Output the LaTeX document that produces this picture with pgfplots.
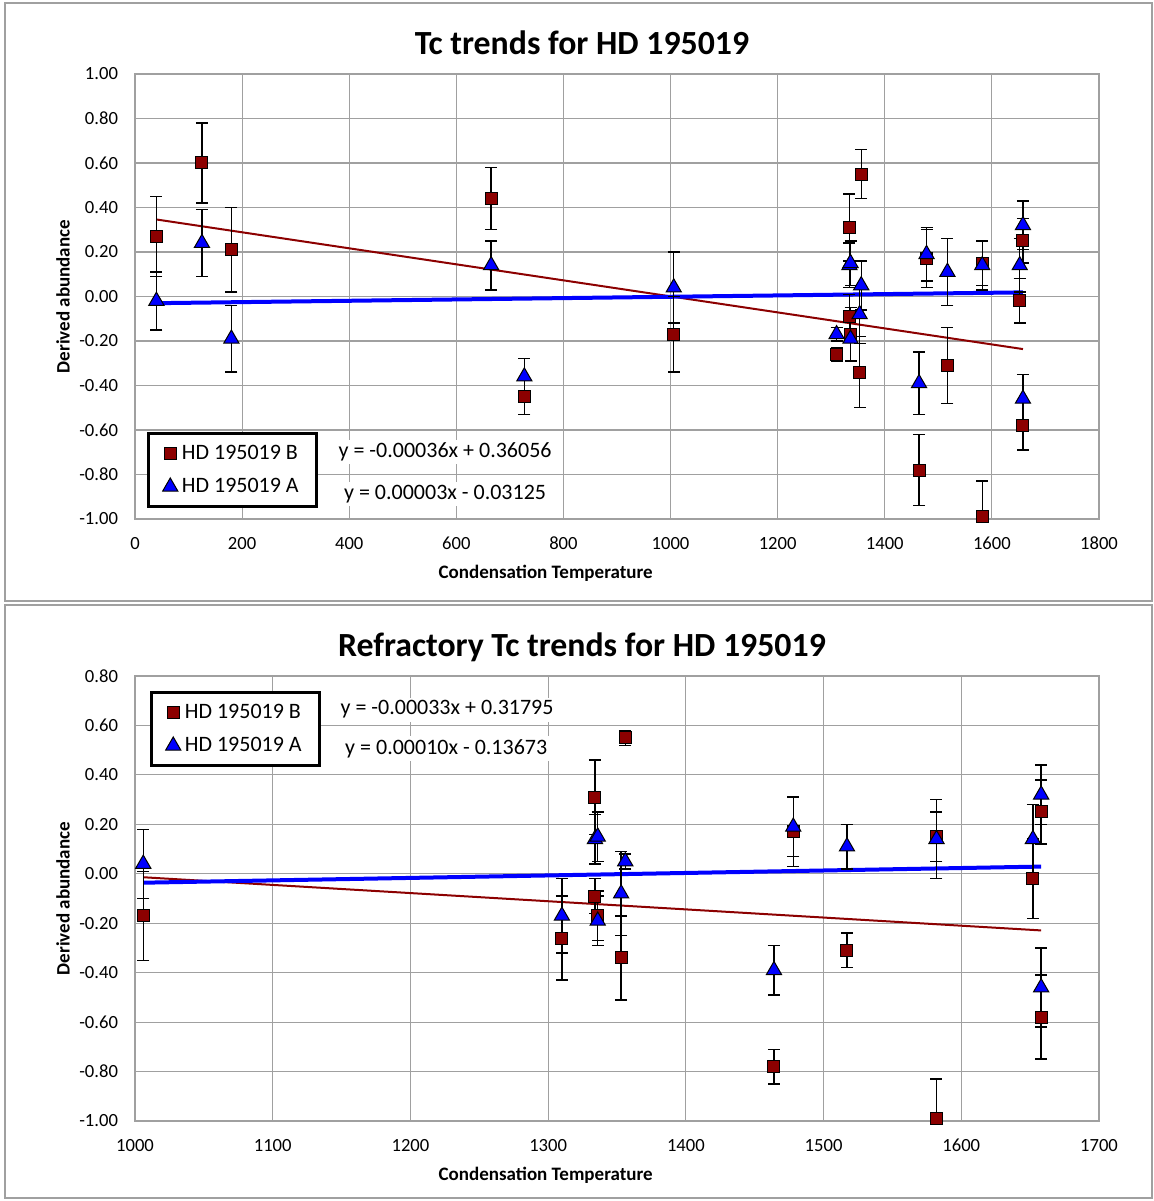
\documentclass[border=0pt]{standalone}
\usepackage{fontspec}
\setmainfont{Carlito}
\usepackage{pgfplots}
\usepackage{pgfplotstable}
\pgfplotsset{compat=1.18}
\definecolor{bcol}{RGB}{140,0,0}
\definecolor{acol}{RGB}{0,0,255}
\definecolor{gridcol}{RGB}{160,160,160}

% top chart: all elements
\pgfplotstableread{
x y e
40 0.27 0.18
125 0.60 0.18
180 0.21 0.19
665 0.44 0.14
727 -0.45 0.08
1006 -0.17 0.17
1310 -0.26 0.03
1334 0.31 0.15
1334 -0.09 0.10
1336 -0.17 0.12
1353 -0.34 0.16
1356 0.55 0.11
1464 -0.78 0.16
1478 0.17 0.13
1517 -0.31 0.17
1582 0.15 0.10
1582 -0.99 0.16
1652 -0.02 0.10
1658 0.25 0.10
1658 -0.58 0.11
}\topB
\pgfplotstableread{
x y e
40 -0.02 0.13
125 0.24 0.15
180 -0.19 0.15
665 0.14 0.11
727 -0.36 0.08
1006 0.04 0.16
1310 -0.17 0.03
1334 0.14 0.10
1336 0.15 0.10
1336 -0.19 0.10
1353 -0.08 0.13
1356 0.05 0.11
1464 -0.39 0.14
1478 0.19 0.12
1517 0.11 0.15
1582 0.14 0.11
1652 0.14 0.12
1658 0.32 0.11
1658 -0.46 0.11
}\topA
% bottom chart: refractory elements
\pgfplotstableread{
x y e
1006 -0.17 0.18
1310 -0.26 0.17
1334 0.31 0.15
1334 -0.09 0.07
1336 -0.17 0.10
1353 -0.34 0.17
1356 0.55 0.03
1464 -0.78 0.07
1478 0.17 0.14
1517 -0.31 0.07
1582 0.15 0.10
1582 -0.99 0.16
1652 -0.02 0.16
1658 0.25 0.13
1658 -0.58 0.17
}\botB
\pgfplotstableread{
x y e
1006 0.04 0.14
1310 -0.17 0.15
1334 0.14 0.10
1336 0.15 0.10
1336 -0.19 0.10
1353 -0.08 0.17
1356 0.05 0.03
1464 -0.39 0.10
1478 0.19 0.12
1517 0.11 0.09
1582 0.14 0.16
1652 0.14 0.14
1658 0.32 0.12
1658 -0.46 0.16
}\botA

\pgfplotsset{
  tcaxis/.style={
    anchor=south west, scale only axis,
    width=482pt, height=222.5pt,
    grid=major, grid style={gridcol, line width=0.6pt},
    axis line style={gridcol, line width=0.7pt},
    major tick length=0pt,
    tick label style={font=\fontsize{9.3}{11}\selectfont},
    /pgf/number format/assume math mode=true,
    yticklabel style={xshift=-5pt, /pgf/number format/.cd, fixed, fixed zerofill, precision=2},
    xticklabel style={yshift=-5.5pt, /pgf/number format/.cd, set thousands separator={}},
    xlabel={Condensation Temperature},
    ylabel={Derived abundance},
    every axis x label/.style={at={(axis description cs:0.426,-0.1213)}, anchor=center,
      font=\fontsize{9.5}{11}\selectfont\bfseries},
    every axis y label/.style={at={(axis description cs:-0.0747,0.5)}, anchor=center, rotate=90,
      font=\fontsize{9.5}{11}\selectfont\bfseries},
    legend style={draw=black, line width=1.6pt, fill=white,
      font=\fontsize{11}{13}\selectfont, inner xsep=7pt, inner ysep=3.5pt,
      row sep=4pt, cells={anchor=west}},
    legend image post style={line width=0.5pt},
  },
  bser/.style={only marks, mark=square*, mark size=3pt,
    mark options={fill=bcol, draw=black, line width=0.5pt},
    error bars/.cd, y dir=both, y explicit,
    error bar style={black, line width=0.7pt},
    error mark options={rotate=90, mark size=3pt, black, line width=0.7pt}},
  aser/.style={only marks, mark=triangle*, mark size=4.4pt,
    mark options={fill=acol, draw=black, line width=0.5pt},
    error bars/.cd, y dir=both, y explicit,
    error bar style={black, line width=0.7pt},
    error mark options={rotate=90, mark size=3pt, black, line width=0.7pt}},
}

\begin{document}
\begin{tikzpicture}
\path (0,0) rectangle (577pt,600.5pt);
\draw[gridcol, line width=0.8pt] (2.5pt,300pt) rectangle (576pt,599pt);
\draw[gridcol, line width=0.8pt] (2.5pt,1.5pt) rectangle (576pt,298pt);

\begin{axis}[tcaxis, at={(67.5pt,341pt)},
  xmin=0, xmax=1800, ymin=-1, ymax=1,
  xtick={0,200,...,1800},
  ytick={-1,-0.8,-0.6,-0.4,-0.2,0,0.2,0.4,0.6,0.8,1},
  legend style={at={(axis description cs:0.0125,0.0247)}, anchor=south west}]
\addplot[bcol, line width=1pt, forget plot] coordinates {(40,0.34616) (1658,-0.23632)};
\addplot[acol, line width=2pt, forget plot] coordinates {(40,-0.03005) (1658,0.01849)};
\addplot[bser] table[x=x, y=y, y error=e] {\topB};
\addlegendentry{HD 195019 B}
\addplot[aser] table[x=x, y=y, y error=e] {\topA};
\addlegendentry{HD 195019 A}
\node[fill=white, inner sep=1.5pt, font=\fontsize{11}{13}\selectfont] at (axis cs:579,-0.699) {y = -0.00036x + 0.36056};
\node[fill=white, inner sep=1.5pt, font=\fontsize{11}{13}\selectfont] at (axis cs:579,-0.888) {y = 0.00003x - 0.03125};
\end{axis}

\begin{axis}[tcaxis, at={(67.5pt,40pt)},
  xmin=1000, xmax=1700, ymin=-1, ymax=0.8,
  xtick={1000,1100,...,1700},
  ytick={-1,-0.8,-0.6,-0.4,-0.2,0,0.2,0.4,0.6,0.8},
  legend style={at={(axis description cs:0.0156,0.7955)}, anchor=south west}]
\addplot[bcol, line width=1pt, forget plot] coordinates {(1006,-0.01403) (1658,-0.22919)};
\addplot[acol, line width=2pt, forget plot] coordinates {(1006,-0.03613) (1658,0.02907)};
\addplot[bser] table[x=x, y=y, y error=e] {\botB};
\addlegendentry{HD 195019 B}
\addplot[aser] table[x=x, y=y, y error=e] {\botA};
\addlegendentry{HD 195019 A}
\node[fill=white, inner sep=1.5pt, font=\fontsize{11}{13}\selectfont] at (axis cs:1226.6,0.664) {y = -0.00033x + 0.31795};
\node[fill=white, inner sep=1.5pt, font=\fontsize{11}{13}\selectfont] at (axis cs:1226,0.506) {y = 0.00010x - 0.13673};
\end{axis}

\node[font=\bfseries\fontsize{16.9}{19}\selectfont] at (291pt,579pt) {Tc trends for HD 195019};
\node[font=\bfseries\fontsize{16.9}{19}\selectfont] at (291pt,277pt) {Refractory Tc trends for HD 195019};
\end{tikzpicture}
\end{document}
